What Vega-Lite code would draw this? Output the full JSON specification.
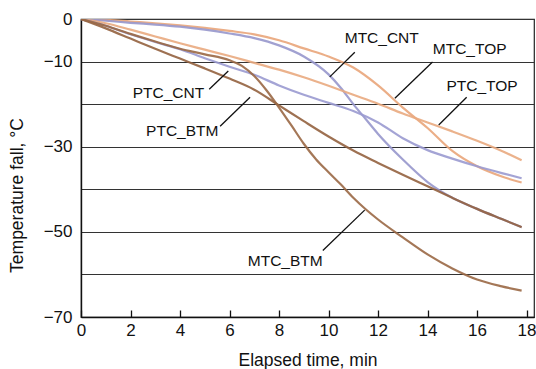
{
  "$schema": "https://vega.github.io/schema/vega-lite/v6.json",
  "width": 453,
  "height": 298,
  "autosize": {"type": "none"},
  "padding": {"left": 81, "top": 19, "right": 2, "bottom": 52},
  "background": "white",
  "config": {
    "view": {"stroke": "#222", "strokeWidth": 1.2},
    "font": "Liberation Sans",
    "axis": {"domainColor": "#111", "domainWidth": 1.4, "labelFont": "Liberation Sans", "titleFont": "Liberation Sans", "labelFontSize": 17, "titleFontSize": 17.5, "labelColor": "#111", "titleColor": "#111", "titleFontWeight": "normal"}
  },
  "datasets": {
    "curves": [
      {"series": "MTC_TOP", "t": 0, "v": 0}, {"series": "MTC_TOP", "t": 1, "v": -0.2}, {"series": "MTC_TOP", "t": 2, "v": -0.6}, {"series": "MTC_TOP", "t": 3, "v": -1.0}, {"series": "MTC_TOP", "t": 4, "v": -1.5}, {"series": "MTC_TOP", "t": 5, "v": -2.1}, {"series": "MTC_TOP", "t": 6, "v": -2.8}, {"series": "MTC_TOP", "t": 7, "v": -3.6}, {"series": "MTC_TOP", "t": 8, "v": -5.0}, {"series": "MTC_TOP", "t": 9, "v": -6.9}, {"series": "MTC_TOP", "t": 10, "v": -8.8}, {"series": "MTC_TOP", "t": 11, "v": -11.4}, {"series": "MTC_TOP", "t": 12, "v": -15.6}, {"series": "MTC_TOP", "t": 13, "v": -20.8}, {"series": "MTC_TOP", "t": 14, "v": -25.6}, {"series": "MTC_TOP", "t": 15, "v": -31.0}, {"series": "MTC_TOP", "t": 16, "v": -34.6}, {"series": "MTC_TOP", "t": 17, "v": -37.0}, {"series": "MTC_TOP", "t": 17.8, "v": -38.4},
      {"series": "MTC_CNT", "t": 0, "v": 0}, {"series": "MTC_CNT", "t": 1, "v": -0.4}, {"series": "MTC_CNT", "t": 2, "v": -0.9}, {"series": "MTC_CNT", "t": 3, "v": -1.3}, {"series": "MTC_CNT", "t": 4, "v": -1.8}, {"series": "MTC_CNT", "t": 5, "v": -2.5}, {"series": "MTC_CNT", "t": 6, "v": -3.4}, {"series": "MTC_CNT", "t": 7, "v": -4.5}, {"series": "MTC_CNT", "t": 8, "v": -6.2}, {"series": "MTC_CNT", "t": 9, "v": -8.8}, {"series": "MTC_CNT", "t": 10, "v": -13.0}, {"series": "MTC_CNT", "t": 10.5, "v": -16.2}, {"series": "MTC_CNT", "t": 11, "v": -20.0}, {"series": "MTC_CNT", "t": 11.5, "v": -23.5}, {"series": "MTC_CNT", "t": 12, "v": -27.0}, {"series": "MTC_CNT", "t": 13, "v": -33.0}, {"series": "MTC_CNT", "t": 14, "v": -38.3}, {"series": "MTC_CNT", "t": 15, "v": -42.0}, {"series": "MTC_CNT", "t": 16, "v": -44.6}, {"series": "MTC_CNT", "t": 17, "v": -47.0}, {"series": "MTC_CNT", "t": 17.8, "v": -48.9},
      {"series": "PTC_TOP", "t": 0, "v": 0}, {"series": "PTC_TOP", "t": 1, "v": -1.0}, {"series": "PTC_TOP", "t": 2, "v": -2.5}, {"series": "PTC_TOP", "t": 3, "v": -4.1}, {"series": "PTC_TOP", "t": 4, "v": -5.7}, {"series": "PTC_TOP", "t": 5, "v": -7.2}, {"series": "PTC_TOP", "t": 6, "v": -8.7}, {"series": "PTC_TOP", "t": 7, "v": -10.3}, {"series": "PTC_TOP", "t": 8, "v": -11.9}, {"series": "PTC_TOP", "t": 9, "v": -13.7}, {"series": "PTC_TOP", "t": 10, "v": -15.7}, {"series": "PTC_TOP", "t": 11, "v": -17.8}, {"series": "PTC_TOP", "t": 12, "v": -19.9}, {"series": "PTC_TOP", "t": 13, "v": -22.2}, {"series": "PTC_TOP", "t": 14, "v": -24.3}, {"series": "PTC_TOP", "t": 15, "v": -26.4}, {"series": "PTC_TOP", "t": 16, "v": -28.6}, {"series": "PTC_TOP", "t": 17, "v": -31.0}, {"series": "PTC_TOP", "t": 17.8, "v": -33.2},
      {"series": "PTC_CNT", "t": 0, "v": 0}, {"series": "PTC_CNT", "t": 1, "v": -1.6}, {"series": "PTC_CNT", "t": 2, "v": -3.6}, {"series": "PTC_CNT", "t": 3, "v": -5.4}, {"series": "PTC_CNT", "t": 4, "v": -7.1}, {"series": "PTC_CNT", "t": 5, "v": -9.2}, {"series": "PTC_CNT", "t": 6, "v": -11.2}, {"series": "PTC_CNT", "t": 7, "v": -13.1}, {"series": "PTC_CNT", "t": 8, "v": -15.6}, {"series": "PTC_CNT", "t": 9, "v": -17.8}, {"series": "PTC_CNT", "t": 10, "v": -19.7}, {"series": "PTC_CNT", "t": 11, "v": -21.6}, {"series": "PTC_CNT", "t": 12, "v": -24.3}, {"series": "PTC_CNT", "t": 13, "v": -28.0}, {"series": "PTC_CNT", "t": 14, "v": -30.8}, {"series": "PTC_CNT", "t": 15, "v": -32.8}, {"series": "PTC_CNT", "t": 16, "v": -34.6}, {"series": "PTC_CNT", "t": 17, "v": -36.2}, {"series": "PTC_CNT", "t": 17.8, "v": -37.4},
      {"series": "PTC_BTM", "t": 0, "v": 0}, {"series": "PTC_BTM", "t": 1, "v": -2.2}, {"series": "PTC_BTM", "t": 2, "v": -4.6}, {"series": "PTC_BTM", "t": 3, "v": -7.0}, {"series": "PTC_BTM", "t": 4, "v": -9.3}, {"series": "PTC_BTM", "t": 5, "v": -11.6}, {"series": "PTC_BTM", "t": 6, "v": -14.0}, {"series": "PTC_BTM", "t": 7, "v": -16.6}, {"series": "PTC_BTM", "t": 8, "v": -20.3}, {"series": "PTC_BTM", "t": 9, "v": -24.0}, {"series": "PTC_BTM", "t": 10, "v": -27.6}, {"series": "PTC_BTM", "t": 11, "v": -30.9}, {"series": "PTC_BTM", "t": 12, "v": -33.8}, {"series": "PTC_BTM", "t": 13, "v": -36.6}, {"series": "PTC_BTM", "t": 14, "v": -39.3}, {"series": "PTC_BTM", "t": 15, "v": -42.0}, {"series": "PTC_BTM", "t": 16, "v": -44.6}, {"series": "PTC_BTM", "t": 17, "v": -47.0}, {"series": "PTC_BTM", "t": 17.8, "v": -48.9},
      {"series": "MTC_BTM", "t": 0, "v": 0}, {"series": "MTC_BTM", "t": 1, "v": -1.6}, {"series": "MTC_BTM", "t": 2, "v": -3.5}, {"series": "MTC_BTM", "t": 3, "v": -5.3}, {"series": "MTC_BTM", "t": 4, "v": -7.0}, {"series": "MTC_BTM", "t": 5, "v": -8.3}, {"series": "MTC_BTM", "t": 6, "v": -9.7}, {"series": "MTC_BTM", "t": 6.5, "v": -11.0}, {"series": "MTC_BTM", "t": 7, "v": -13.4}, {"series": "MTC_BTM", "t": 7.5, "v": -16.8}, {"series": "MTC_BTM", "t": 8, "v": -20.8}, {"series": "MTC_BTM", "t": 8.5, "v": -25.0}, {"series": "MTC_BTM", "t": 9, "v": -29.3}, {"series": "MTC_BTM", "t": 9.5, "v": -33.0}, {"series": "MTC_BTM", "t": 10, "v": -36.0}, {"series": "MTC_BTM", "t": 10.5, "v": -38.9}, {"series": "MTC_BTM", "t": 11, "v": -42.0}, {"series": "MTC_BTM", "t": 11.5, "v": -44.7}, {"series": "MTC_BTM", "t": 12, "v": -47.1}, {"series": "MTC_BTM", "t": 13, "v": -51.3}, {"series": "MTC_BTM", "t": 14, "v": -55.3}, {"series": "MTC_BTM", "t": 15, "v": -58.6}, {"series": "MTC_BTM", "t": 16, "v": -61.2}, {"series": "MTC_BTM", "t": 17, "v": -62.8}, {"series": "MTC_BTM", "t": 17.8, "v": -63.8}
    ],
    "labels": [
      {"label": "MTC_CNT", "t": 12.15, "v": -4.5},
      {"label": "MTC_TOP", "t": 15.7, "v": -7.1},
      {"label": "PTC_TOP", "t": 16.2, "v": -15.8},
      {"label": "PTC_CNT", "t": 3.53, "v": -17.4},
      {"label": "PTC_BTM", "t": 4.09, "v": -26.4},
      {"label": "MTC_BTM", "t": 8.25, "v": -56.8}
    ],
    "leaders": [
      {"label": "MTC_CNT", "t": 11.06, "v": -7.8, "t2": 10.05, "v2": -13.6},
      {"label": "MTC_TOP", "t": 14.2, "v": -10.1, "t2": 12.68, "v2": -18.6},
      {"label": "PTC_TOP", "t": 15.58, "v": -18.4, "t2": 14.45, "v2": -24.9},
      {"label": "PTC_CNT", "t": 5.18, "v": -16.5, "t2": 5.95, "v2": -12.2},
      {"label": "PTC_BTM", "t": 5.62, "v": -25.2, "t2": 6.83, "v2": -18.4},
      {"label": "MTC_BTM", "t": 9.77, "v": -54.4, "t2": 11.46, "v2": -44.9}
    ]
  },
  "layer": [
    {
      "data": {"name": "curves"},
      "mark": {"type": "line", "interpolate": "monotone", "strokeWidth": 2.2, "strokeOpacity": 0.9, "clip": true},
      "encoding": {
        "x": {"field": "t", "type": "quantitative",
              "scale": {"domain": [0, 18.3], "nice": false, "zero": false},
              "axis": {"values": [0,1,2,3,4,5,6,7,8,9,10,11,12,13,14,15,16,17,18],
                       "labelExpr": "datum.value % 2 == 0 ? datum.label : ''",
                       "tickSize": -7, "tickColor": "#111", "tickWidth": 1.3, "labelPadding": 12,
                       "grid": false, "labelFlush": false, "labelOverlap": false,
                       "title": "Elapsed time, min", "titleBaseline": "middle", "titleY": 43}},
        "y": {"field": "v", "type": "quantitative",
              "scale": {"domain": [-70, 0], "nice": false, "zero": false},
              "axis": {"values": [0,-10,-20,-30,-40,-50,-60,-70],
                       "labelExpr": "datum.value == 0 || (datum.value / 10) % 2 != 0 ? datum.label : ''",
                       "ticks": false, "labelPadding": 9, "grid": true, "gridColor": "#333", "gridWidth": 1.2,
                       "labelFlush": false, "labelOverlap": false, "labelBaseline": "middle",
                       "title": "Temperature fall, °C", "titleBaseline": "middle", "titleX": -64, "titleY": 176}},
        "color": {"field": "series", "type": "nominal", "legend": null,
                  "scale": {"domain": ["MTC_TOP", "PTC_TOP", "MTC_CNT", "PTC_CNT", "PTC_BTM", "MTC_BTM"],
                            "range": ["#e9a57a", "#e9aa80", "#9797cc", "#9a9ad0", "#94623f", "#9a6845"]}},
        "detail": {"field": "series"}
      }
    },
    {
      "data": {"name": "leaders"},
      "mark": {"type": "rule", "color": "#111", "strokeWidth": 1.3},
      "encoding": {
        "x": {"field": "t", "type": "quantitative"},
        "y": {"field": "v", "type": "quantitative"},
        "x2": {"field": "t2"},
        "y2": {"field": "v2"}
      }
    },
    {
      "data": {"name": "labels"},
      "mark": {"type": "text", "font": "Liberation Sans", "fontSize": 15.5, "color": "#111", "align": "center", "baseline": "middle"},
      "encoding": {
        "x": {"field": "t", "type": "quantitative"},
        "y": {"field": "v", "type": "quantitative"},
        "text": {"field": "label"}
      }
    }
  ]
}
